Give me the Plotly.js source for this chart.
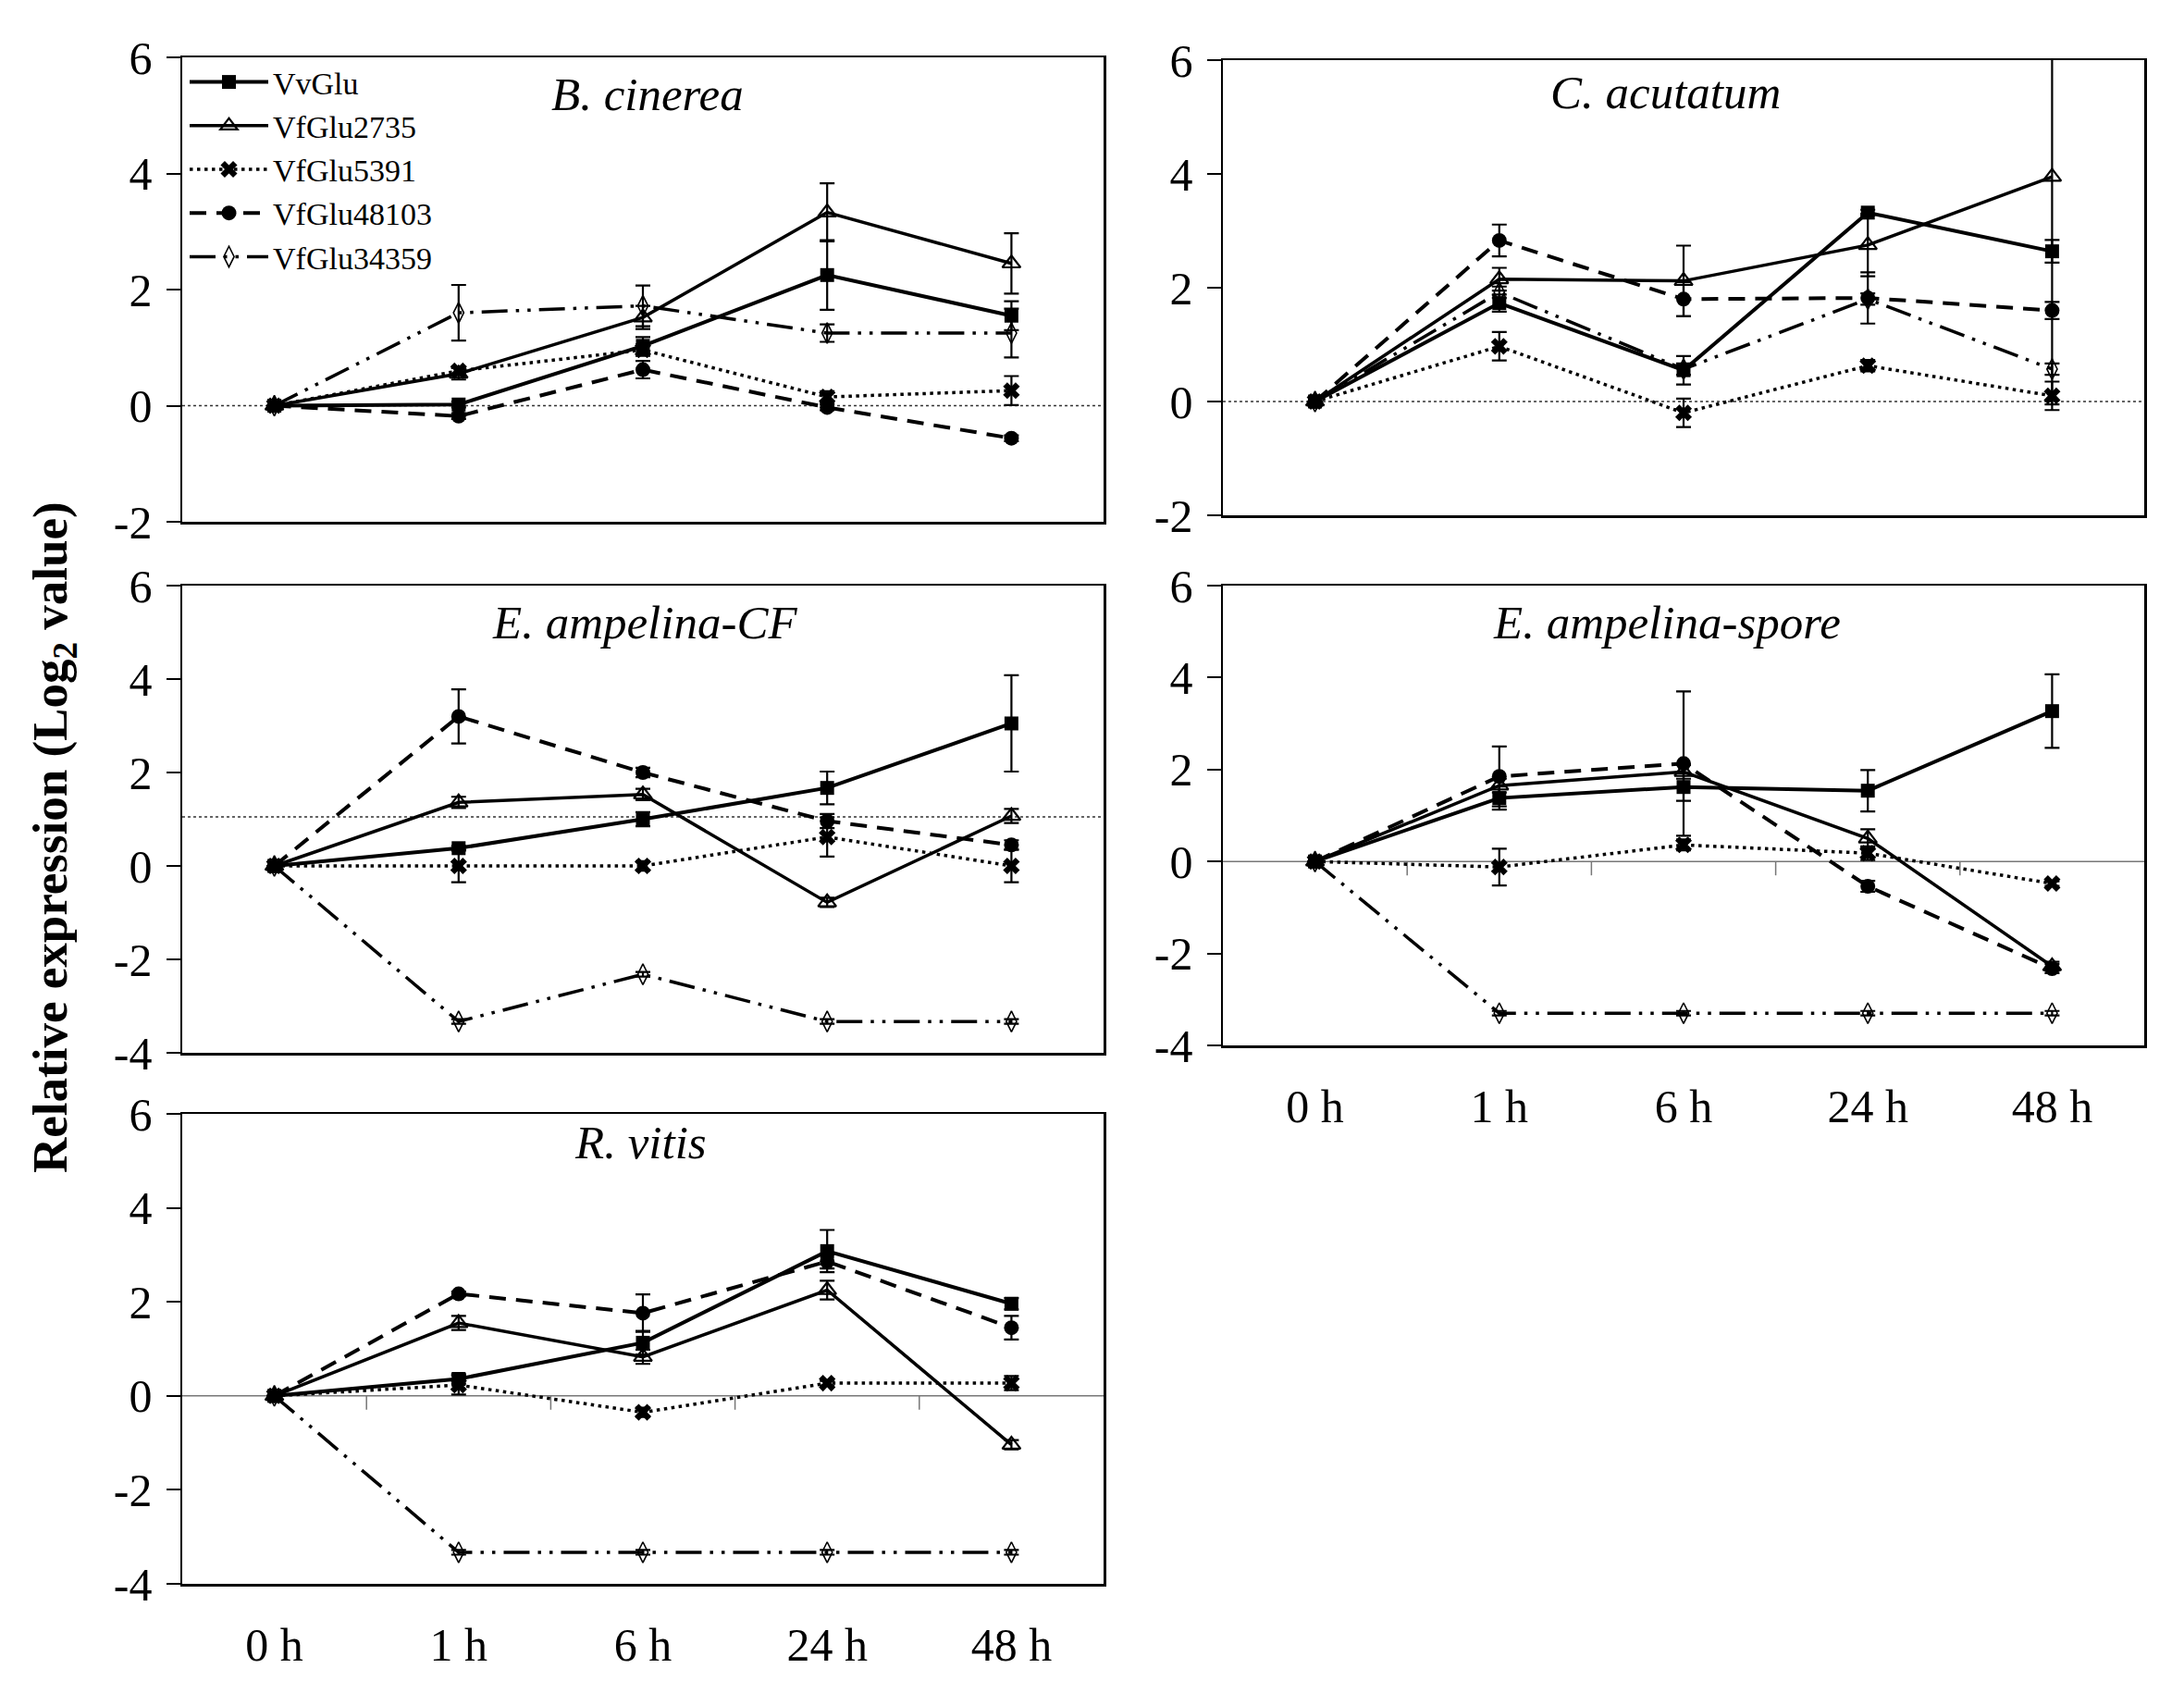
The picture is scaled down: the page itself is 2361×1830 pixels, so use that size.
<!DOCTYPE html>
<html>
<head>
<meta charset="utf-8">
<script src="https://cdn.plot.ly/plotly-3.0.1.min.js"></script>
<style>html,body{margin:0;padding:0;background:#fff}#chart{width:2361px;height:1830px}</style>
</head>
<body>
<div id="chart"></div>
<script>
// ---- categories / labels ----
const times = ["0 h", "1 h", "6 h", "24 h", "48 h"];
const genes = ["VvGlu", "VfGlu2735", "VfGlu5391", "VfGlu48103", "VfGlu34359"];
const panelTitles = ["B. cinerea", "C. acutatum", "E. ampelina-CF", "E. ampelina-spore", "R. vitis"];

// ---- B. cinerea ----
const bc_VvGlu      = [0, 0.02, 1.03, 2.25, 1.55];
const bc_VvGlu_err  = [0, 0.05, 0.15, 0.60, 0.25];
const bc_2735       = [0, 0.55, 1.52, 3.33, 2.45];
const bc_2735_err   = [0, 0.10, 0.20, 0.50, 0.52];
const bc_5391       = [0, 0.60, 0.96, 0.15, 0.26];
const bc_5391_err   = [0, 0.05, 0.10, 0.10, 0.25];
const bc_48103      = [0, -0.18, 0.62, -0.03, -0.56];
const bc_48103_err  = [0, 0.05, 0.15, 0.05, 0.05];
const bc_34359      = [0, 1.60, 1.72, 1.25, 1.25];
const bc_34359_err  = [0, 0.48, 0.35, 0.15, 0.42];

// ---- C. acutatum ----
const ca_VvGlu      = [0, 1.73, 0.55, 3.32, 2.64];
const ca_VvGlu_err  = [0, 0.15, 0.25, 0.05, 0.20];
const ca_2735       = [0, 2.15, 2.12, 2.75, 3.95];
const ca_2735_err   = [0, 0.20, 0.62, 0.55, 4.00];
const ca_5391       = [0, 0.97, -0.20, 0.63, 0.10];
const ca_5391_err   = [0, 0.25, 0.25, 0.10, 0.25];
const ca_48103      = [0, 2.83, 1.80, 1.82, 1.60];
const ca_48103_err  = [0, 0.28, 0.30, 0.45, 0.15];
const ca_34359      = [0, 1.92, 0.57, 1.80, 0.57];
const ca_34359_err  = [0, 0.10, 0.10, 0.10, 0.10];

// ---- E. ampelina-CF ----
const ec_VvGlu      = [0, 0.38, 1.00, 1.67, 3.05];
const ec_VvGlu_err  = [0, 0.05, 0.15, 0.35, 1.03];
const ec_2735       = [0, 1.36, 1.53, -0.78, 1.07];
const ec_2735_err   = [0, 0.12, 0.12, 0.10, 0.15];
const ec_5391       = [0, 0.00, 0.00, 0.62, 0.00];
const ec_5391_err   = [0, 0.35, 0.10, 0.42, 0.35];
const ec_48103      = [0, 3.20, 2.00, 0.96, 0.45];
const ec_48103_err  = [0, 0.58, 0.10, 0.15, 0.10];
const ec_34359      = [0, -3.33, -2.32, -3.33, -3.33];
const ec_34359_err  = [0, 0.05, 0.05, 0.05, 0.05];

// ---- E. ampelina-spore ----
const es_VvGlu      = [0, 1.38, 1.62, 1.54, 3.27];
const es_VvGlu_err  = [0, 0.25, 0.30, 0.45, 0.80];
const es_2735       = [0, 1.65, 1.95, 0.50, -2.28];
const es_2735_err   = [0, 0.15, 0.15, 0.20, 0.10];
const es_5391       = [0, -0.12, 0.36, 0.18, -0.48];
const es_5391_err   = [0, 0.40, 0.12, 0.15, 0.05];
const es_48103      = [0, 1.85, 2.13, -0.54, -2.33];
const es_48103_err  = [0, 0.65, 1.57, 0.12, 0.10];
const es_34359      = [0, -3.30, -3.30, -3.30, -3.30];
const es_34359_err  = [0, 0.05, 0.05, 0.05, 0.05];

// ---- R. vitis ----
const rv_VvGlu      = [0, 0.36, 1.13, 3.08, 1.96];
const rv_VvGlu_err  = [0, 0.10, 0.25, 0.45, 0.12];
const rv_2735       = [0, 1.55, 0.83, 2.25, -1.04];
const rv_2735_err   = [0, 0.15, 0.15, 0.20, 0.10];
const rv_5391       = [0, 0.23, -0.35, 0.27, 0.27];
const rv_5391_err   = [0, 0.20, 0.10, 0.05, 0.15];
const rv_48103      = [0, 2.17, 1.76, 2.86, 1.45];
const rv_48103_err  = [0, 0.05, 0.40, 0.15, 0.25];
const rv_34359      = [0, -3.33, -3.33, -3.33, -3.33];
const rv_34359_err  = [0, 0.05, 0.05, 0.05, 0.05];

// ---- assemble ----
const panelData = [
  [[bc_VvGlu, bc_VvGlu_err], [bc_2735, bc_2735_err], [bc_5391, bc_5391_err], [bc_48103, bc_48103_err], [bc_34359, bc_34359_err]],
  [[ca_VvGlu, ca_VvGlu_err], [ca_2735, ca_2735_err], [ca_5391, ca_5391_err], [ca_48103, ca_48103_err], [ca_34359, ca_34359_err]],
  [[ec_VvGlu, ec_VvGlu_err], [ec_2735, ec_2735_err], [ec_5391, ec_5391_err], [ec_48103, ec_48103_err], [ec_34359, ec_34359_err]],
  [[es_VvGlu, es_VvGlu_err], [es_2735, es_2735_err], [es_5391, es_5391_err], [es_48103, es_48103_err], [es_34359, es_34359_err]],
  [[rv_VvGlu, rv_VvGlu_err], [rv_2735, rv_2735_err], [rv_5391, rv_5391_err], [rv_48103, rv_48103_err], [rv_34359, rv_34359_err]]
];

const styles = [
  {line: {color: "#000", width: 4, dash: "solid"}, marker: {symbol: "square", size: 15, color: "#000"}},
  {line: {color: "#000", width: 3.5, dash: "solid"}, marker: {symbol: "triangle-up-open", size: 17, color: "#000", line: {width: 2.2, color: "#000"}}},
  {line: {color: "#000", width: 3.5, dash: "3.5px,4.5px"}, marker: {symbol: "x", size: 16, color: "#000", line: {width: 0}}},
  {line: {color: "#000", width: 4, dash: "18px,11px"}, marker: {symbol: "circle", size: 16, color: "#000"}},
  {line: {color: "#000", width: 3.5, dash: "28px,9px,3.5px,9px,3.5px,9px"}, marker: {symbol: "diamond-tall-open", size: 16, color: "#000", line: {width: 1.6, color: "#000"}}}
];

const traces = [];
panelData.forEach((pd, p) => {
  const ax = p === 0 ? "" : String(p + 1);
  pd.forEach((g, gi) => {
    traces.push({
      type: "scatter", mode: "lines+markers",
      x: times, y: g[0],
      name: genes[gi], legendgroup: genes[gi], showlegend: p === 0,
      xaxis: "x" + ax, yaxis: "y" + ax,
      line: styles[gi].line, marker: styles[gi].marker,
      error_y: {type: "data", array: g[1], visible: true, color: "#000", thickness: 2.2, width: 8}
    });
  });
});

const FONT = "Liberation Serif";
const xdomL = [197/2361, 1193/2361], xdomR = [1322/2361, 2318/2361];
const ydoms = [
  [1 - 564/1830, 1 - 62/1830],
  [1 - 557/1830, 1 - 65/1830],
  [1 - 1138/1830, 1 - 633/1830],
  [1 - 1130/1830, 1 - 633/1830],
  [1 - 1712/1830, 1 - 1204/1830]
];
const yranges = [[-2, 6], [-2, 6], [-4, 6], [-4, 6], [-4, 6]];

function xaxisDef(dom, yname, showLabels) {
  return {
    domain: dom, anchor: yname, type: "category", categoryorder: "array", categoryarray: times,
    range: [-0.5, 4.5], showline: true, mirror: true, linecolor: "#000", linewidth: 2.5,
    showgrid: false, zeroline: false, ticks: "", showticklabels: showLabels,
    tickfont: {family: FONT, size: 50, color: "#000"}, ticklabelstandoff: 20, fixedrange: true
  };
}
function yaxisDef(dom, xname, range) {
  const vals = [], txt = [];
  for (let v = range[0]; v <= range[1]; v += 2) { vals.push(v); txt.push(String(v)); }
  return {
    domain: dom, anchor: xname, range: range, tickvals: vals, ticktext: txt,
    showline: true, mirror: true, linecolor: "#000", linewidth: 2.5,
    showgrid: false, zeroline: false, ticks: "outside", ticklen: 15, tickwidth: 2, tickcolor: "#000",
    tickfont: {family: FONT, size: 50, color: "#000"}, ticklabelstandoff: 5, fixedrange: true
  };
}

const layout = {
  width: 2361, height: 1830,
  margin: {l: 0, r: 0, t: 0, b: 0},
  paper_bgcolor: "#fff", plot_bgcolor: "#fff",
  font: {family: FONT, color: "#000"},
  showlegend: true,
  legend: {
    x: 200/2361, y: 1 - 60/1830, xanchor: "left", yanchor: "top",
    bgcolor: "rgba(0,0,0,0)", borderwidth: 0, itemwidth: 85,
    font: {family: FONT, size: 34, color: "#000"}, tracegroupgap: 0
  },
  xaxis: xaxisDef(xdomL, "y", false),
  yaxis: yaxisDef(ydoms[0], "x", yranges[0]),
  xaxis2: xaxisDef(xdomR, "y2", false),
  yaxis2: yaxisDef(ydoms[1], "x2", yranges[1]),
  xaxis3: xaxisDef(xdomL, "y3", false),
  yaxis3: yaxisDef(ydoms[2], "x3", yranges[2]),
  xaxis4: xaxisDef(xdomR, "y4", true),
  yaxis4: yaxisDef(ydoms[3], "x4", yranges[3]),
  xaxis5: xaxisDef(xdomL, "y5", true),
  yaxis5: yaxisDef(ydoms[4], "x5", yranges[4]),
  shapes: [],
  annotations: []
};

// reference lines (axis crossing lines)
const refLines = [
  {ax: "", y: 0, dash: "dot", color: "#333"},
  {ax: "2", y: 0, dash: "dot", color: "#333"},
  {ax: "3", y: 1.05, dash: "dot", color: "#333"},
  {ax: "4", y: 0, dash: "solid", color: "#777"},
  {ax: "5", y: 0, dash: "solid", color: "#777"}
];
refLines.forEach((r, i) => {
  layout.shapes.push({type: "line", layer: "below", xref: "x" + r.ax + " domain", yref: "y" + r.ax,
    x0: 0, x1: 1, y0: r.y, y1: r.y, line: {color: r.color, width: 1.5, dash: r.dash}});
  if (i >= 3) {
    [0.5, 1.5, 2.5, 3.5].forEach(b => {
      layout.shapes.push({type: "line", layer: "below", xref: "x" + r.ax, yref: "y" + r.ax,
        ysizemode: "pixel", yanchor: r.y, x0: b, x1: b, y0: 0, y1: -15,
        line: {color: "#777", width: 1.5}});
    });
  }
});

// panel titles
const titlePos = [[700, 102], [1800, 100], [697, 673], [1802, 673], [692, 1235]];
panelTitles.forEach((t, i) => {
  layout.annotations.push({text: "<i>" + t + "</i>", xref: "paper", yref: "paper",
    x: titlePos[i][0]/2361, y: 1 - titlePos[i][1]/1830, xanchor: "center", yanchor: "middle",
    showarrow: false, font: {family: FONT, size: 51, color: "#000"}});
});

// shared y-axis title
layout.annotations.push({text: "<b>Relative expression (Log<sub>2</sub> value)</b>", xref: "paper", yref: "paper",
  x: 58/2361, y: 1 - 905/1830, xanchor: "center", yanchor: "middle", textangle: -90,
  showarrow: false, font: {family: FONT, size: 53, color: "#000"}});

Plotly.newPlot("chart", traces, layout, {displayModeBar: false, staticPlot: true});
</script>
</body>
</html>
